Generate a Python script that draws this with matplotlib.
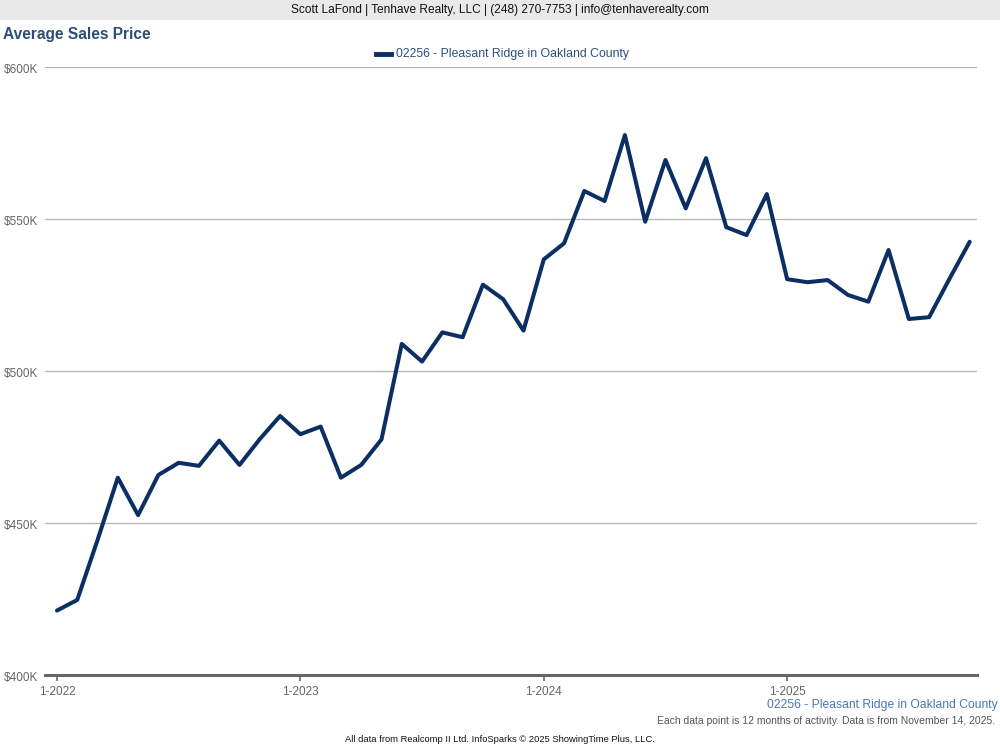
import numpy as np
import matplotlib
matplotlib.use('Agg')
import matplotlib.pyplot as plt
from matplotlib.patches import Rectangle
from matplotlib.lines import Line2D

plt.rcParams['font.family'] = ['Liberation Sans', 'DejaVu Sans']

# Monthly rolling 12-month average sales price, Jan 2022 .. Oct 2025 (in $K)
months = list(range(46))
prices = [421.2, 424.7, 444.4, 464.9, 452.6, 465.8, 469.8, 468.8, 477.1, 469.1,
          477.6, 485.2, 479.2, 481.7, 464.9, 469.1, 477.5, 508.9, 503.1, 512.7,
          511.1, 528.4, 523.6, 513.3, 536.7, 542.0, 559.2, 555.9, 577.6, 549.1,
          569.4, 553.5, 570.0, 547.3, 544.7, 558.2, 530.2, 529.2, 529.9, 525.0,
          522.8, 539.8, 517.1, 517.7, 530.3, 542.5]
tick_pos = [0, 12, 24, 36]
tick_labels = ['1-2022', '1-2023', '1-2024', '1-2025']
y_ticks = [400, 450, 500, 550, 600]
y_labels = ['$400K', '$450K', '$500K', '$550K', '$600K']

series_name = '02256 - Pleasant Ridge in Oakland County'
line_color = '#0b2f62'
title_color = '#2c4f7a'

fig = plt.figure(figsize=(10, 7.5), dpi=100)

# header band
fig.patches.append(Rectangle((0, 1 - 20 / 750), 1, 20 / 750, transform=fig.transFigure,
                             facecolor='#e9e9e9', edgecolor='none', zorder=0))
fig.text(0.5, 1 - 10 / 750, 'Scott LaFond | Tenhave Realty, LLC | (248) 270-7753 | info@tenhaverealty.com',
         ha='center', va='center', fontsize=8.6, color='#111111')
fig.text(0.003, 1 - 35 / 750, 'Average Sales Price', ha='left', va='center',
         fontsize=11.2, fontweight='bold', color=title_color)

# legend
fig.add_artist(Line2D([376 / 1000, 391 / 1000], [1 - 54 / 750, 1 - 54 / 750],
                      transform=fig.transFigure, color=line_color, lw=3.5))
fig.text(396 / 1000, 1 - 54 / 750, series_name, ha='left', va='center',
         fontsize=8.8, color=title_color)

ax = fig.add_axes([0.045, 0.1, 0.932, 0.8107])
ax.plot(months, prices, color=line_color, lw=2.9, solid_joinstyle='round',
        solid_capstyle='round', zorder=3)

ax.set_xlim(-0.59, 45.36)
ax.set_ylim(400, 600)
ax.set_yticks(y_ticks)
ax.set_yticklabels([])
for v, lab in zip(y_ticks, y_labels):
    ax.annotate(lab, xy=(0, v), xycoords=('figure fraction', 'data'), xytext=(3, -2),
                textcoords='offset points', ha='left', va='center', fontsize=8.5, color='#666666')
ax.tick_params(axis='y', length=0)
ax.grid(axis='y', color='#b3b3b3', lw=0.9)
ax.set_axisbelow(True)

ax.set_xticks(tick_pos)
ax.set_xticklabels(tick_labels, fontsize=8.5, color='#666666')
ax.tick_params(axis='x', length=4, width=1.2, color='#666666', pad=4)

for s in ['top', 'right', 'left']:
    ax.spines[s].set_visible(False)
ax.spines['bottom'].set_color('#666666')
ax.spines['bottom'].set_linewidth(2.2)

fig.text(0.998, 1 - 705 / 750, series_name, ha='right', va='center', fontsize=8.7, color='#4a78ad')
fig.text(0.995, 1 - 721 / 750,
         'Each data point is 12 months of activity. Data is from November 14, 2025.',
         ha='right', va='center', fontsize=7.5, color='#555555')
fig.text(0.5, 1 - 740 / 750, 'All data from Realcomp II Ltd. InfoSparks \u00a9 2025 ShowingTime Plus, LLC.',
         ha='center', va='center', fontsize=6.75, color='#111111')

fig.savefig('out.png', dpi=100)
